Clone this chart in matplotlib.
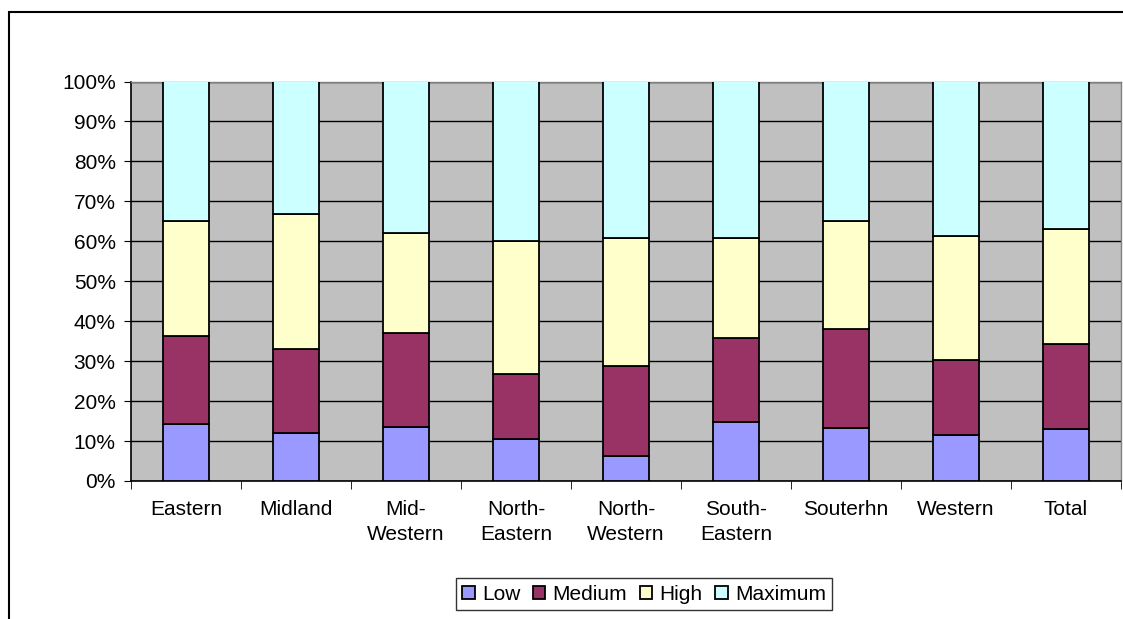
import matplotlib.pyplot as plt
from matplotlib.patches import Rectangle
import numpy as np

plt.rcParams['font.family'] = ['Liberation Sans', 'DejaVu Sans']

regions = ["Eastern", "Midland", "Mid-\nWestern", "North-\nEastern", "North-\nWestern",
           "South-\nEastern", "Souterhn", "Western", "Total"]
low = [14.2, 12.0, 13.4, 10.5, 6.3, 14.8, 13.3, 11.5, 12.9]
medium = [22.1, 21.1, 23.7, 16.4, 22.5, 21.0, 24.8, 18.7, 21.4]
high = [28.8, 33.8, 25.1, 33.1, 32.1, 25.1, 27.0, 31.2, 28.9]
maximum = [34.9, 33.1, 37.8, 40.0, 39.1, 39.1, 34.9, 38.6, 36.8]

series = [("Low", low, "#9999FF"), ("Medium", medium, "#993366"),
          ("High", high, "#FFFFCC"), ("Maximum", maximum, "#CCFFFF")]

fs = 15

fig = plt.figure(figsize=(11.23, 6.19), dpi=100)
# outer chart frame
fig.patches.append(Rectangle((9 / 1123, -0.1), 1.2, 1 - 12 / 619 + 0.1,
                             transform=fig.transFigure, fill=False,
                             edgecolor="black", linewidth=1.5))

ax = fig.add_axes([131 / 1123, 1 - 481 / 619, 990 / 1123, 399.5 / 619])
ax.set_facecolor("#C0C0C0")

x = np.arange(len(regions))
bottom = np.zeros(len(regions))
for name, vals, color in series:
    vals = np.array(vals)
    ax.bar(x, vals, 0.42, bottom=bottom, color=color, edgecolor="black",
           linewidth=1.3, label=name, zorder=3)
    bottom += vals

ax.set_xlim(-0.5, len(regions) - 0.5)
ax.set_ylim(0, 100)
ax.set_yticks(np.arange(0, 101, 10))
ax.set_yticklabels([f"{v}%" for v in range(0, 101, 10)], fontsize=fs)
ax.yaxis.grid(True, color="black", linewidth=1, zorder=0)
ax.set_axisbelow(True)

ax.set_xticks(x)
ax.set_xticklabels(regions, fontsize=fs, linespacing=1.4)
ax.tick_params(axis="x", length=0, pad=14)
ax.set_xticks(np.arange(-0.5, len(regions)), minor=True)
ax.tick_params(axis="x", which="minor", length=6, direction="out", color="black")
ax.tick_params(axis="y", length=5, direction="out", color="black", pad=6)

for s in ["left", "bottom"]:
    ax.spines[s].set_color("black")
    ax.spines[s].set_linewidth(1.2)
for s in ["top", "right"]:
    ax.spines[s].set_color("#808080")
    ax.spines[s].set_linewidth(1)

leg = fig.legend(loc="center", bbox_to_anchor=(644 / 1123, 1 - 594 / 619), ncol=4,
                 fontsize=fs, frameon=True, fancybox=False, edgecolor="black",
                 handlelength=0.6, handleheight=0.6, handletextpad=0.35,
                 columnspacing=0.6, borderpad=0.3)
leg.get_frame().set_linewidth(1)

fig.savefig("out.png", dpi=100)
